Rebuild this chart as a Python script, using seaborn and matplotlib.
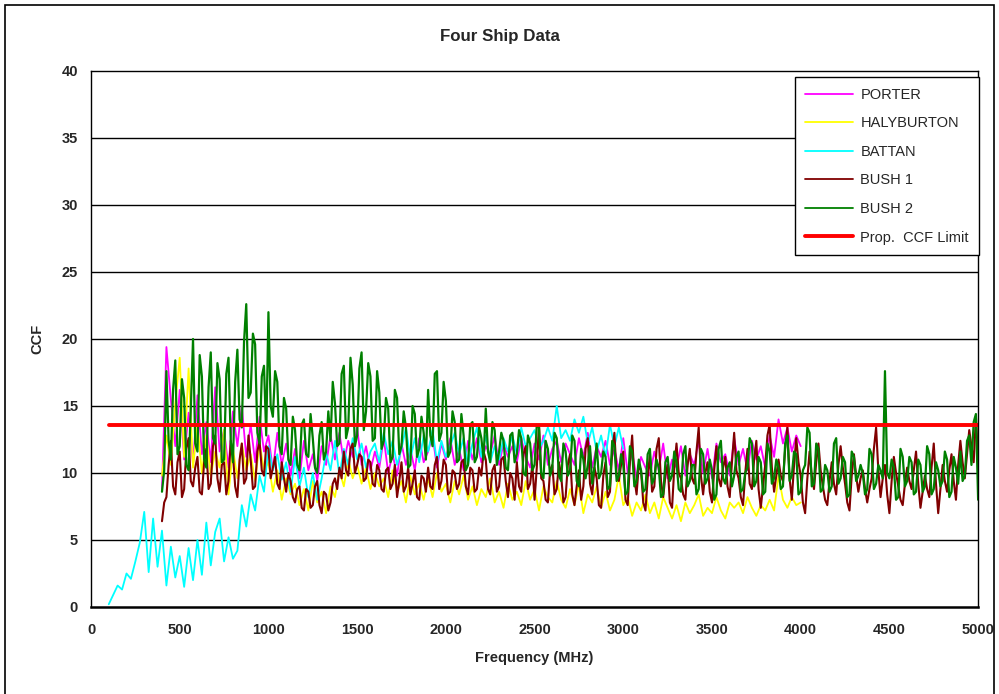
import numpy as np
import pandas as pd
import matplotlib
matplotlib.use("Agg")
import matplotlib.pyplot as plt
from matplotlib.lines import Line2D
from matplotlib.patches import Rectangle
import seaborn as sns

# CCF values; each trace has a start frequency and a step (MHz)
battan_start, battan_step = 100, 25
battan_ccf = [
    0.2, 0.9, 1.6, 1.3, 2.5, 2.1, 3.4, 4.8, 7.1, 2.6,
    6.6, 3.0, 5.7, 1.6, 4.5, 2.2, 3.8, 1.5, 4.4, 2.0,
    5.0, 2.4, 6.3, 3.1, 5.6, 6.6, 3.4, 5.2, 3.6, 4.2,
    7.6, 6.0, 8.4, 7.2, 9.8, 8.6, 12.0, 10.2, 11.4, 9.5,
    10.8, 8.6, 11.2, 9.0, 10.4, 8.2, 10.0, 8.0, 9.6, 11.5,
    10.2, 12.4, 9.8, 11.8, 10.6, 12.6, 11.0, 12.2, 10.4, 11.6,
    12.2, 10.8, 13.0, 11.4, 12.4, 10.6, 11.8, 13.4, 11.0, 12.6,
    10.8, 12.8, 11.6, 13.2, 10.8, 12.4, 11.2, 12.0, 13.0, 11.4,
    12.6, 10.6, 12.2, 13.4, 11.2, 12.8, 10.8, 12.0, 11.0, 12.6,
    11.6, 12.8, 11.4, 13.4, 12.0, 12.6, 13.2, 11.8, 12.4, 13.4,
    12.4, 15.0, 12.6, 13.2, 12.4, 14.0, 13.0, 14.2, 12.2, 13.4,
    11.6, 12.8, 11.2, 13.6, 12.0, 13.4, 11.8,
]

porter_start, porter_step = 400, 25
porter_ccf = [
    8.8, 19.4, 15.5, 12.0, 16.2, 11.0, 14.5, 10.6, 15.8, 11.4,
    13.8, 10.8, 16.4, 11.6, 13.2, 10.4, 14.6, 12.0, 15.0, 11.2,
    13.6, 10.8, 14.2, 11.6, 12.8, 10.2, 13.0, 10.6, 12.2, 9.8,
    11.8, 9.6, 12.4, 10.2, 11.4, 9.4, 12.0, 10.6, 12.8, 11.0,
    13.0, 10.8, 12.4, 11.2, 13.4, 10.6, 12.0, 10.2, 11.6, 10.4,
    12.6, 10.0, 11.4, 9.8, 12.2, 10.6, 11.8, 10.2, 12.6, 10.8,
    11.6, 12.8, 10.4, 12.2, 11.0, 12.6, 10.6, 11.8, 10.2, 12.4,
    11.0, 12.6, 10.8, 12.0, 11.4, 12.8, 10.6, 12.2, 11.2, 12.0,
    10.8, 12.6, 11.2, 10.4, 12.2, 11.0, 12.8, 10.6, 11.8, 12.4,
    10.8, 12.2, 11.4, 10.6, 12.6, 11.2, 13.0, 10.4, 12.0, 11.2,
    12.4, 10.6, 11.8, 10.2, 12.6, 10.0, 11.6, 9.6, 11.2, 10.4,
    9.8, 11.6, 10.2, 12.2, 9.6, 11.0, 10.4, 12.0, 9.8, 11.4,
    10.6, 12.4, 10.0, 11.8, 9.6, 12.2, 10.8, 11.4, 9.8, 12.6,
    10.6, 11.8, 10.2, 12.4, 11.0, 12.0, 10.4, 12.8, 11.2, 14.0,
    12.2, 13.4, 11.6, 12.8, 12.0,
]

haly_start, haly_step = 400, 25
haly_ccf = [
    9.8, 12.8, 10.6, 15.2, 18.6, 11.2, 17.8, 10.4, 13.6, 10.0,
    12.8, 9.8, 11.6, 10.4, 13.2, 8.4, 11.8, 9.6, 12.2, 10.2,
    11.4, 9.4, 12.2, 10.2, 10.8, 8.6, 10.2, 8.0, 9.6, 8.4,
    9.2, 7.6, 8.8, 7.2, 9.4, 7.8, 8.6, 7.0, 9.0, 8.2,
    10.2, 9.0, 11.0, 9.6, 10.6, 9.2, 10.4, 8.8, 10.0, 9.0,
    9.6, 8.2, 10.2, 8.6, 9.4, 7.8, 9.8, 8.4, 9.2, 8.0,
    9.6, 8.2, 10.0, 8.6, 9.2, 7.8, 9.4, 8.4, 9.8, 8.0,
    9.0, 7.6, 8.8, 8.2, 9.6, 7.8, 8.6, 7.4, 9.2, 8.0,
    8.6, 7.6, 9.4, 8.0, 8.8, 7.2, 9.0, 8.2, 7.8, 9.4,
    8.0, 7.4, 8.8, 7.6, 9.2, 7.0, 8.4, 7.8, 9.0, 7.4,
    8.6, 7.2, 8.0, 9.8, 7.6, 8.2, 6.8, 7.8, 7.2, 8.4,
    7.0, 7.8, 6.6, 8.2, 7.4, 6.6, 7.6, 6.4, 7.8, 7.0,
    7.6, 8.4, 6.8, 7.4, 7.0, 8.2, 7.2, 6.6, 7.8, 7.4,
    7.8, 7.0, 8.2, 7.4, 6.8, 7.6, 7.2, 8.0, 7.2, 9.8,
    8.0, 7.4, 8.2, 7.6, 7.8,
]

bush1_start, bush1_step = 400, 12.5
bush1_ccf = [
    6.4, 7.8, 8.2, 10.6, 12.4, 9.0, 8.4, 10.8, 11.6, 8.2, 8.8, 11.8, 12.6, 9.4, 9.0, 10.4, 11.2, 8.6, 8.4, 10.8,
    11.8, 8.8, 9.2, 12.0, 12.8, 9.6, 8.6, 10.6, 10.8, 8.4, 9.4, 12.4, 11.4, 9.0, 8.2, 11.0, 12.2, 9.2, 9.6, 12.8,
    11.0, 8.8, 9.0, 11.6, 12.4, 10.2, 9.8, 12.0, 11.8, 9.6, 10.4, 11.2, 9.2, 8.8, 10.8, 9.6, 8.6, 10.0, 9.4, 8.2,
    7.8, 8.8, 9.0, 7.4, 7.2, 8.8, 8.6, 7.4, 7.6, 9.0, 9.4, 7.6, 7.0, 8.6, 8.4, 7.2, 7.8, 9.2, 9.6, 8.8,
    10.4, 9.6, 11.6, 10.2, 9.8, 11.8, 12.2, 10.0, 10.6, 11.4, 11.2, 9.4, 9.6, 11.0, 10.8, 9.2, 9.0, 10.6, 10.2, 8.8,
    8.6, 10.2, 10.4, 8.8, 9.2, 10.6, 8.2, 9.4, 10.8, 8.6, 9.0, 10.4, 8.4, 9.2, 10.2, 8.2, 8.0, 9.8, 9.6, 8.6,
    10.4, 9.0, 8.8, 10.6, 11.2, 8.8, 9.4, 11.0, 10.6, 8.4, 8.6, 10.2, 10.0, 8.8, 9.2, 10.8, 11.0, 9.0, 8.4, 10.4,
    10.2, 8.6, 8.8, 10.4, 9.8, 11.6, 11.0, 8.8, 8.4, 10.2, 10.6, 8.6, 9.0, 11.0, 11.2, 9.4, 8.2, 10.0, 9.6, 8.0,
    10.8, 9.0, 8.6, 11.4, 12.0, 8.8, 9.2, 10.6, 8.0, 10.4, 13.6, 9.6, 9.4, 8.0, 7.8, 10.2, 10.6, 8.4, 8.8, 10.8,
    9.8, 7.8, 8.2, 10.6, 11.4, 8.4, 7.6, 9.0, 10.2, 8.0, 9.0, 11.8, 12.6, 9.2, 8.4, 10.4, 9.6, 7.6, 7.4, 9.8,
    10.8, 8.2, 8.6, 11.6, 13.0, 9.8, 9.4, 10.6, 11.6, 8.0, 7.6, 10.8, 12.8, 9.6, 8.4, 10.6, 10.2, 7.8, 7.2, 9.6,
    11.4, 8.6, 9.0, 11.8, 12.6, 9.4, 8.2, 9.8, 10.6, 7.8, 7.4, 10.4, 12.2, 10.0, 9.6, 8.4, 8.0, 10.6, 11.8, 9.6,
    9.2, 11.6, 13.4, 9.8, 8.4, 10.0, 10.8, 8.6, 7.8, 10.2, 12.0, 9.6, 9.0, 10.4, 11.2, 9.0, 8.2, 10.8, 13.0, 10.2,
    9.6, 8.2, 7.6, 10.0, 11.8, 9.2, 8.8, 11.0, 12.4, 8.8, 7.4, 9.0, 10.6, 12.8, 13.6, 10.4, 8.6, 9.8, 11.0, 9.8,
    9.4, 11.8, 13.4, 9.6, 8.0, 10.6, 12.6, 10.8, 9.8, 7.8, 7.0, 9.6, 11.6, 9.8, 8.8, 10.8, 12.2, 10.2, 9.0, 8.0,
    7.6, 9.4, 10.8, 9.2, 8.4, 10.6, 12.0, 10.4, 9.2, 7.8, 7.2, 9.8, 11.4, 9.8, 8.6, 9.6, 10.2, 8.8, 7.8, 8.8,
    9.6, 11.8, 13.4, 10.2, 8.2, 9.6, 10.6, 8.4, 7.0, 9.4, 11.2, 10.0, 9.0, 8.0, 7.6, 9.2, 10.4, 9.4, 8.8, 10.2,
    11.6, 9.2, 7.4, 8.6, 9.8, 8.8, 8.2, 10.4, 12.2, 9.2, 7.0, 8.8, 10.6, 9.4, 8.6, 10.2, 11.4, 9.4, 8.0, 10.6,
    12.4, 10.8, 9.6, 11.4, 13.2, 12.0, 10.8, 14.2, 11.0,
]

bush2_start, bush2_step = 400, 12.5
bush2_ccf = [
    8.6, 10.2, 17.6, 12.4, 11.0, 16.2, 18.4, 11.4, 12.0, 17.0, 15.6, 10.6, 10.2, 14.8, 20.0, 12.2, 11.6, 18.8, 17.2, 11.0,
    10.4, 16.4, 19.0, 12.6, 12.2, 18.2, 17.0, 10.8, 11.0, 17.4, 18.6, 12.4, 10.8, 16.8, 19.2, 14.0, 13.4, 19.8, 22.6, 15.6,
    16.0, 20.4, 19.6, 13.0, 12.2, 17.2, 18.0, 12.8, 22.0, 15.0, 14.2, 17.6, 16.8, 12.0, 11.4, 15.6, 14.8, 11.0, 10.6, 14.2,
    13.2, 10.6, 10.2, 13.6, 14.0, 11.4, 11.2, 14.4, 12.6, 10.4, 10.0, 12.8, 13.8, 11.0, 11.6, 14.6, 12.4, 16.8, 15.2, 12.0,
    12.2, 17.4, 18.0, 12.6, 13.4, 18.6, 16.6, 12.0, 12.8, 17.8, 19.0, 13.2, 14.6, 18.2, 17.2, 12.4, 12.6, 17.6, 16.0, 11.8,
    12.4, 15.6, 14.8, 10.8, 11.2, 16.2, 15.6, 11.4, 12.0, 14.6, 13.4, 10.4, 10.6, 15.0, 14.4, 11.2, 11.8, 14.2, 13.0, 11.0,
    16.2, 12.8, 12.0, 17.4, 17.6, 12.4, 13.0, 16.8, 15.4, 11.2, 11.6, 14.6, 13.8, 10.8, 11.0, 14.4, 12.8, 10.2, 10.6, 13.6,
    13.8, 10.8, 11.2, 13.4, 12.6, 11.0, 14.8, 11.6, 10.8, 13.8, 13.2, 10.6, 11.6, 13.0, 12.4, 10.4, 10.2, 12.8, 13.0, 10.8,
    11.4, 13.2, 12.6, 10.0, 9.8, 12.8, 12.2, 10.2, 10.6, 13.6, 13.4, 10.0, 9.6, 12.4, 11.8, 9.8, 10.4, 13.0, 12.6, 9.8,
    9.4, 12.2, 11.6, 9.8, 10.2, 12.8, 12.4, 9.4, 9.0, 11.8, 11.0, 9.6, 10.6, 12.0, 9.2, 10.4, 12.2, 9.6, 10.0, 11.6,
    11.2, 8.8, 9.0, 12.4, 12.0, 9.4, 9.8, 11.4, 10.6, 8.4, 8.6, 12.0, 11.6, 9.0, 9.4, 11.0, 10.2, 8.6, 8.8, 11.4,
    11.8, 9.2, 9.6, 11.0, 10.4, 8.2, 8.4, 10.8, 11.2, 9.4, 9.8, 11.6, 10.8, 8.8, 8.6, 11.4, 12.0, 9.0, 9.4, 10.6,
    10.6, 8.4, 8.8, 11.8, 11.4, 9.2, 9.6, 11.0, 10.2, 8.0, 8.4, 11.8, 12.4, 9.6, 9.2, 10.4, 10.8, 9.0, 9.8, 11.2,
    11.6, 8.6, 8.8, 10.0, 10.4, 12.6, 12.2, 9.0, 9.4, 11.2, 10.8, 8.4, 8.6, 12.2, 11.6, 9.2, 9.6, 11.0, 10.4, 8.8,
    9.0, 12.2, 12.8, 9.4, 9.8, 11.6, 11.4, 8.4, 8.6, 10.2, 10.6, 13.4, 13.0, 9.0, 9.2, 12.2, 11.8, 8.6, 8.8, 10.6,
    10.2, 8.6, 9.0, 12.2, 12.6, 9.2, 9.6, 11.2, 10.8, 8.2, 8.4, 11.6, 11.2, 9.4, 9.8, 10.6, 10.0, 8.4, 8.8, 11.8,
    11.4, 8.8, 9.2, 10.6, 10.2, 9.6, 17.6, 10.0, 9.6, 11.0, 10.4, 8.0, 8.2, 11.8, 11.2, 9.0, 9.4, 11.2, 10.8, 8.4,
    8.6, 11.0, 10.6, 8.6, 9.0, 12.0, 11.4, 8.4, 8.8, 10.8, 10.2, 9.0, 9.4, 11.6, 11.0, 8.2, 8.6, 11.2, 10.4, 9.2,
    11.6, 9.4, 9.8, 12.4, 12.8, 10.6, 13.8, 14.4, 8.0,
]

limit_freq = [100, 5000]
limit_ccf = [13.6, 13.6]

ships = ["PORTER", "HALYBURTON", "BATTAN", "BUSH 1", "BUSH 2"]
colors = ["#FF00FF", "#FFFF00", "#00FFFF", "#800000", "#008000"]
widths = [1.3, 1.3, 1.3, 1.5, 1.6]
series = [(porter_start, porter_step, porter_ccf), (haly_start, haly_step, haly_ccf),
          (battan_start, battan_step, battan_ccf), (bush1_start, bush1_step, bush1_ccf),
          (bush2_start, bush2_step, bush2_ccf)]

frames = []
for name, (start, step, vals) in zip(ships, series):
    freq = start + step * np.arange(len(vals))
    frames.append(pd.DataFrame({"freq": freq, "ccf": vals, "ship": name}))
df = pd.concat(frames, ignore_index=True)

sns.set_style("white")
plt.rcParams["font.family"] = ["Liberation Sans", "DejaVu Sans"]

fig = plt.figure(figsize=(9.99, 6.94), dpi=100)
ax = fig.add_axes([0.0911, 0.1254, 0.888, 0.7723])

for name, c, lw in zip(ships, colors, widths):
    sns.lineplot(data=df[df["ship"] == name], x="freq", y="ccf", color=c,
                 estimator=None, sort=False, linewidth=lw, legend=False, ax=ax)
sns.lineplot(x=limit_freq, y=limit_ccf, color="#FF0000", linewidth=2.8, ax=ax)

ax.set_xlim(0, 5000)
ax.set_ylim(0, 40)
ax.set_xticks(np.arange(0, 5001, 500))
ax.set_xticks(np.arange(0, 5001, 100), minor=True)
ax.set_yticks(np.arange(0, 41, 5))
ax.set_yticks(np.arange(0, 41, 1), minor=True)
for y in range(5, 40, 5):
    ax.axhline(y, color="black", linewidth=1.0, zorder=0)

ax.tick_params(axis="both", which="major", direction="inout", length=7, width=1,
               color="black", labelsize=10.5, pad=6)
ax.tick_params(axis="both", which="minor", direction="inout", length=4, width=0.8,
               color="black")
ax.tick_params(axis="x", which="major", pad=8)
for lab in ax.get_xticklabels() + ax.get_yticklabels():
    lab.set_fontweight("bold")
for s in ax.spines.values():
    s.set_color("black")
    s.set_linewidth(1.0)
ax.spines["bottom"].set_linewidth(1.8)

ax.set_xlabel("Frequency (MHz)", fontsize=10.5, fontweight="bold", labelpad=10)
ax.set_ylabel("CCF", fontsize=10.5, fontweight="bold", labelpad=12)
fig.text(0.5, 0.947, "Four Ship Data", ha="center", va="center",
         fontsize=12.2, fontweight="bold")

handles = [Line2D([], [], color=c, linewidth=1.3) for c in colors]
handles.append(Line2D([], [], color="#FF0000", linewidth=2.8))
labels = ships + ["Prop.  CCF Limit"]
leg = ax.legend(handles, labels, loc="upper right", bbox_to_anchor=(1.001, 0.988),
                frameon=True, fancybox=False, shadow=False, fontsize=10.5,
                handlelength=3.3, handletextpad=0.5, labelspacing=1.0,
                borderpad=0.7, borderaxespad=0.0, framealpha=1.0)
leg.get_frame().set_edgecolor("black")
leg.get_frame().set_linewidth(1.0)

fig.patches.append(Rectangle((5 / 999, -0.02), 989 / 999, 1.02 - 5 / 694,
                             transform=fig.transFigure, fill=False,
                             edgecolor="black", linewidth=1.2))

fig.savefig("out.png", dpi=100)
